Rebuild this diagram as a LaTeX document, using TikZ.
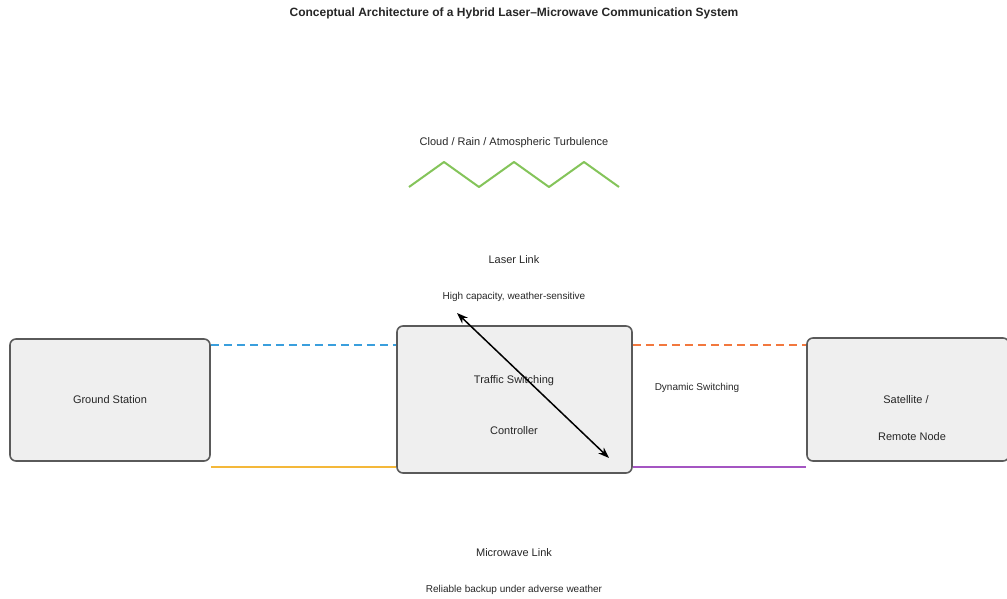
\documentclass[tikz,border=0pt]{standalone}
\usepackage{fontspec}
\setmainfont{Liberation Sans}
\usepackage{xcolor}
\usetikzlibrary{arrows.meta}
\definecolor{boxfill}{HTML}{EFEFEF}
\definecolor{boxline}{HTML}{5A5A5A}
\definecolor{textgray}{HTML}{262626}
\definecolor{laserblue}{HTML}{3A9FDD}
\definecolor{laserorange}{HTML}{F2783E}
\definecolor{mwyellow}{HTML}{F4B83A}
\definecolor{mwpurple}{HTML}{A455C2}
\definecolor{cloudgreen}{HTML}{84C45A}
\newcommand{\mainsize}{\fontsize{11}{13}\selectfont}
\newcommand{\smallsize}{\fontsize{10}{12}\selectfont}

\begin{document}
\begin{tikzpicture}[x=1pt, y=-1pt,
    unit/.style={draw=boxline, fill=boxfill, line width=1.6, rounded corners=6,
      inner sep=0pt, font=\mainsize, text=textgray},
    lbl/.style={font=\mainsize, inner sep=0pt, text=textgray},
    sublbl/.style={font=\smallsize, inner sep=0pt, text=textgray},
    laser/.style={line width=2.4, dash pattern=on 8 off 5},
    microwave/.style={line width=2.2}]
      \useasboundingbox (0,0) rectangle (1007,598);
      \node[font=\bfseries\fontsize{12}{14}\selectfont, text=textgray] (title) at (514,13)
        {Conceptual Architecture of a Hybrid Laser--Microwave Communication System};
      % weather band
      \node[lbl] (weather) at (514,143) {Cloud / Rain / Atmospheric Turbulence};
      \draw[cloudgreen, line width=2, line join=round] (409,187) -- (444,162) -- (479,187)
        -- (514,162) -- (549,187) -- (584,162) -- (619,187);
      \node[lbl] (laserlbl) at (514,260) {Laser Link};
      \node[sublbl] (lasersub) at (514,297) {High capacity, weather-sensitive};
      % the three units
      \node[unit, minimum width=200, minimum height=122] (gs) at (110,400) {Ground Station};
      \node[unit, minimum width=235, minimum height=147] (ctrl) at (514.5,399.5) {};
      \node[lbl] (ctrlA) at (514,381) {Traffic Switching};
      \node[lbl] (ctrlB) at (514,431) {Controller};
      \node[unit, minimum width=202, minimum height=123] (sat) at (908,399.5) {};
      \node[lbl] (satA) at (906,400) {Satellite /};
      \node[lbl] (satB) at (912,437) {Remote Node};
      % laser links (dashed)
      \draw[laser, laserblue] (gs.east |- 0,345) -- (ctrl.west |- 0,345);
      \draw[laser, laserorange] (ctrl.east |- 0,345) -- (sat.west |- 0,345);
      % microwave links
      \draw[microwave, mwyellow] (gs.east |- 0,467) -- (ctrl.west |- 0,467);
      \draw[microwave, mwpurple] (ctrl.east |- 0,467) -- (sat.west |- 0,467);
      \node[sublbl] (switchlbl) at (697,388) {Dynamic Switching};
      % switching arrow
      \coordinate (swA) at (457,313);
      \coordinate (swB) at (609,458);
      \draw[line width=1.5, {Stealth[length=11pt,width=8pt]}-{Stealth[length=11pt,width=8pt]}]
        (swA) -- (swB);
      \node[lbl] (mwlbl) at (514,553) {Microwave Link};
      \node[sublbl] (mwsub) at (514,590) {Reliable backup under adverse weather};
\end{tikzpicture}
\end{document}
